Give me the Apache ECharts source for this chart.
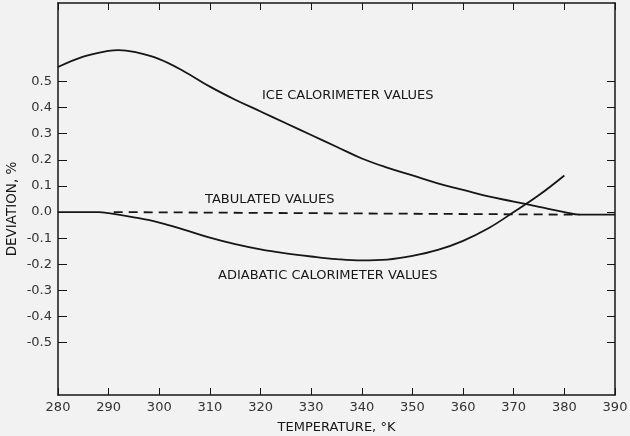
<!DOCTYPE html>
<html>
<head>
<meta charset="utf-8">
<script src="https://cdn.jsdelivr.net/npm/echarts@6/dist/echarts.min.js"></script>
<style>
  html, body { margin: 0; padding: 0; background: #f2f2f2; }
  #chart { width: 630px; height: 436px; }
</style>
</head>
<body>
<div id="chart"></div>
<script>
// temperatures (°K) and deviations (%)
const iceTemps = [280, 285, 290, 292, 295, 300, 305, 310, 315, 320, 325, 330, 335, 340, 345, 350, 355, 360, 365, 370, 375, 380, 383, 390]
const iceValues = [0.555, 0.595, 0.617, 0.62, 0.613, 0.585, 0.537, 0.48, 0.43, 0.385, 0.34, 0.295, 0.25, 0.205, 0.17, 0.14, 0.11, 0.085, 0.06, 0.04, 0.02, 0.0, -0.01, -0.01]

const adiabaticTemps = [280, 285, 288, 290, 295, 300, 305, 310, 315, 320, 325, 330, 335, 340, 345, 350, 355, 360, 365, 370, 375, 380]
const adiabaticValues = [0, 0, 0, -0.004, -0.02, -0.04, -0.068, -0.098, -0.123, -0.143, -0.158, -0.17, -0.18, -0.185, -0.182, -0.168, -0.145, -0.11, -0.062, 0.0, 0.065, 0.14]

const tabulatedTemps = [291, 383]
const tabulatedValues = [0.0, -0.01]

const yTicks = [-0.5, -0.4, -0.3, -0.2, -0.1, 0, 0.1, 0.2, 0.3, 0.4, 0.5]

const pairs = (xs, ys) => xs.map((x, i) => [x, ys[i]])

const font = 'DejaVu Sans'
const ink = '#161616'

const chart = echarts.init(document.getElementById('chart'))

chart.setOption({
  backgroundColor: '#f2f2f2',
  animation: false,
  grid: { left: 58, right: 15, top: 3, bottom: 41, outerBoundsMode: 'none', containLabel: false },
  xAxis: [
    {
      type: 'value',
      min: 280,
      max: 390,
      interval: 10,
      name: 'TEMPERATURE, °K',
      nameLocation: 'middle',
      nameGap: 26,
      nameTextStyle: { color: ink, fontFamily: font, fontSize: 13 },
      axisLine: { onZero: false, lineStyle: { color: ink, width: 1.5 } },
      axisTick: { inside: true, length: 7, lineStyle: { color: ink } },
      axisLabel: { color: '#333', fontFamily: font, fontSize: 13, margin: 6 },
      splitLine: { show: false }
    },
    {
      type: 'value',
      position: 'top',
      min: 280,
      max: 390,
      interval: 10,
      axisLine: { onZero: false, lineStyle: { color: ink, width: 1.5 } },
      axisTick: { inside: true, length: 7, lineStyle: { color: ink } },
      axisLabel: { show: false },
      splitLine: { show: false }
    }
  ],
  yAxis: [
    {
      type: 'value',
      min: -0.7,
      max: 0.8,
      interval: 0.1,
      axisLine: { onZero: false, lineStyle: { color: ink, width: 1.5 } },
      axisTick: { inside: true, length: 9, customValues: yTicks, lineStyle: { color: ink } },
      axisLabel: {
        color: '#333',
        fontFamily: font,
        fontSize: 13,
        margin: 6,
        customValues: yTicks,
        formatter: v => v.toFixed(1)
      },
      splitLine: { show: false }
    },
    {
      type: 'value',
      position: 'right',
      min: -0.7,
      max: 0.8,
      interval: 0.1,
      axisLine: { onZero: false, lineStyle: { color: ink, width: 1.5 } },
      axisTick: { inside: true, length: 8, customValues: yTicks, lineStyle: { color: ink } },
      axisLabel: { show: false },
      splitLine: { show: false }
    }
  ],
  series: [
    {
      name: 'ICE CALORIMETER VALUES',
      type: 'line',
      data: pairs(iceTemps, iceValues),
      smooth: 0.4,
      showSymbol: false,
      lineStyle: { color: ink, width: 1.8 }
    },
    {
      name: 'ADIABATIC CALORIMETER VALUES',
      type: 'line',
      data: pairs(adiabaticTemps, adiabaticValues),
      smooth: 0.4,
      showSymbol: false,
      lineStyle: { color: ink, width: 1.8 }
    },
    {
      name: 'TABULATED VALUES',
      type: 'line',
      data: pairs(tabulatedTemps, tabulatedValues),
      showSymbol: false,
      lineStyle: { color: ink, width: 1.8, type: [9, 6] }
    }
  ],
  graphic: [
    {
      type: 'text', x: 12, y: 209, rotation: Math.PI / 2,
      style: {
        text: 'DEVIATION, %', fill: ink, font: '13.5px "' + font + '"',
        align: 'center', verticalAlign: 'middle'
      }
    },
    {
      type: 'text', left: 262, top: 89,
      style: { text: 'ICE CALORIMETER VALUES', fill: ink, font: '13px "' + font + '"' }
    },
    {
      type: 'text', left: 205, top: 193,
      style: { text: 'TABULATED VALUES', fill: ink, font: '13px "' + font + '"' }
    },
    {
      type: 'text', left: 218, top: 269,
      style: { text: 'ADIABATIC CALORIMETER VALUES', fill: ink, font: '13px "' + font + '"' }
    }
  ]
})

window.addEventListener('resize', () => chart.resize())
</script>
</body>
</html>
